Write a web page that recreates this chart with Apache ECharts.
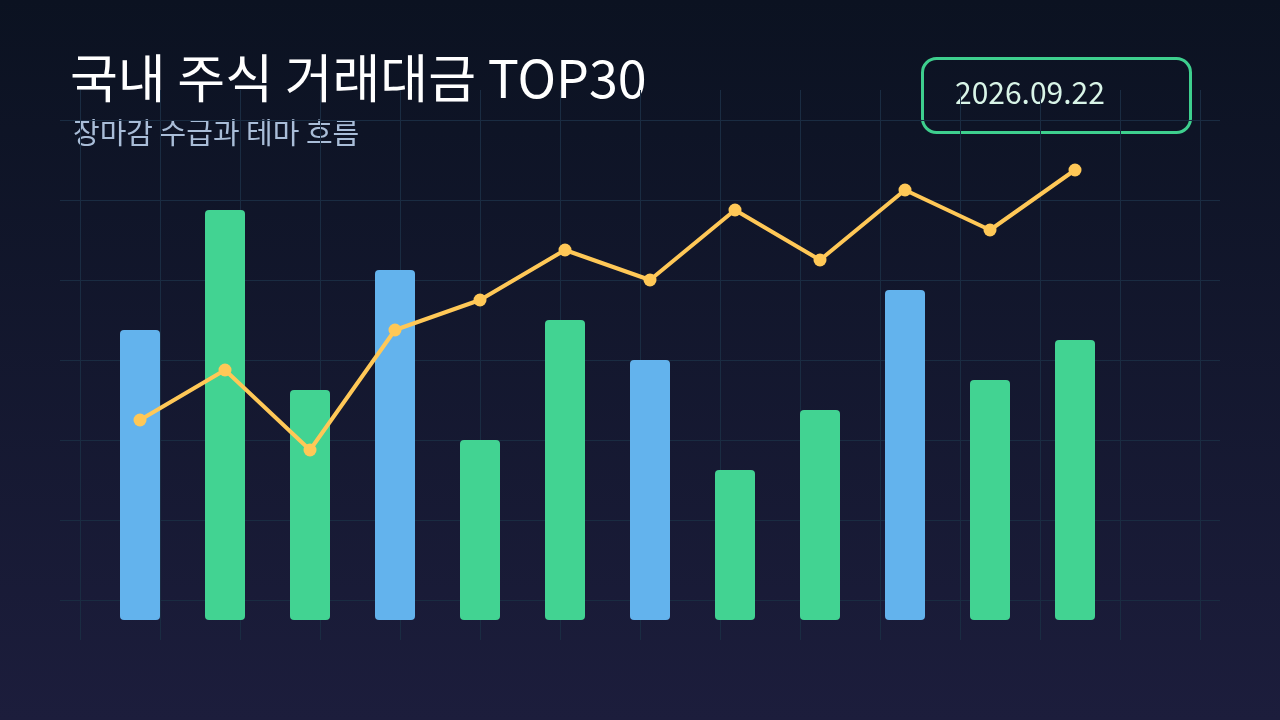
<!DOCTYPE html>
<html>
<head>
<meta charset="utf-8">
<script src="https://cdn.jsdelivr.net/npm/echarts@6/dist/echarts.min.js"></script>
<style>
html,body{margin:0;padding:0;width:1280px;height:720px;overflow:hidden;background:linear-gradient(#0b1221,#1c1d3c);}
#c{width:1280px;height:720px;}
</style>
</head>
<body>
<div id="c"></div>
<script>
const titleText = '국내 주식 거래대금 TOP30';
const subtitleText = '장마감 수급과 테마 흐름';
const dateText = '2026.09.22';
const categories = ['1','2','3','4','5','6','7','8','9','10','11','12'];
const barValues = [58, 82, 46, 70, 36, 60, 52, 30, 42, 66, 48, 56];
const lineValues = [40, 50, 34, 58, 64, 74, 68, 82, 72, 86, 78, 90];

const FONT = '"Noto Sans CJK KR", "Noto Sans", sans-serif';
const gridLineColor = '#1a2c42';
const chart = echarts.init(document.getElementById('c'));
const hiddenAxis = { show: true, axisLine:{show:false}, axisTick:{show:false}, axisLabel:{show:false} };

chart.setOption({
  animation: false,
  backgroundColor: {
    type: 'linear', x: 0, y: 0, x2: 0, y2: 1,
    colorStops: [{offset: 0, color: '#0b1221'}, {offset: 1, color: '#1c1d3c'}]
  },
  grid: [
    { left: 80, right: 80, top: 90, bottom: 80 },
    { left: 60, right: 60, top: 120, bottom: 120 },
    { left: 97.5, right: 162.5, top: 120, bottom: 100 }
  ],
  xAxis: [
    Object.assign({ type: 'value', gridIndex: 0, min: 0, max: 14, interval: 1,
      splitLine: { show: true, lineStyle: { color: gridLineColor, width: 1 } } }, hiddenAxis),
    { type: 'value', gridIndex: 1, show: false, min: 0, max: 1 },
    { type: 'category', gridIndex: 2, data: categories, show: false }
  ],
  yAxis: [
    { type: 'value', gridIndex: 0, show: false, min: 0, max: 1 },
    Object.assign({ type: 'value', gridIndex: 1, min: 0, max: 6, interval: 1,
      splitLine: { show: true, lineStyle: { color: gridLineColor, width: 1 } } }, hiddenAxis),
    { type: 'value', gridIndex: 2, min: 0, max: 100, show: false, splitLine: { show: false } }
  ],
  graphic: [
    { type: 'text', left: 70, top: 52, style: { text: titleText, fill: '#ffffff', font: '52px ' + FONT } },
    { type: 'text', left: 73, top: 118, style: { text: subtitleText, fill: '#a9bdd8', font: '29px ' + FONT } },
    { type: 'rect', left: 921, top: 57, shape: { width: 268, height: 74, r: 14 },
      style: { fill: 'transparent', stroke: '#3ecf8e', lineWidth: 3 } },
    { type: 'text', left: 955, top: 78, style: { text: dateText, fill: '#d9f5e8', font: '30px ' + FONT } }
  ],
  series: [
    {
      type: 'bar', xAxisIndex: 2, yAxisIndex: 2, data: barValues, barWidth: 40,
      itemStyle: {
        borderRadius: 4,
        color: p => (p.dataIndex % 3 === 0 ? '#63b3ed' : '#42d392')
      }
    },
    {
      type: 'line', xAxisIndex: 2, yAxisIndex: 2, data: lineValues,
      symbol: 'circle', symbolSize: 13,
      lineStyle: { color: '#ffc857', width: 4 },
      itemStyle: { color: '#ffc857' }
    }
  ]
});
</script>
</body>
</html>
